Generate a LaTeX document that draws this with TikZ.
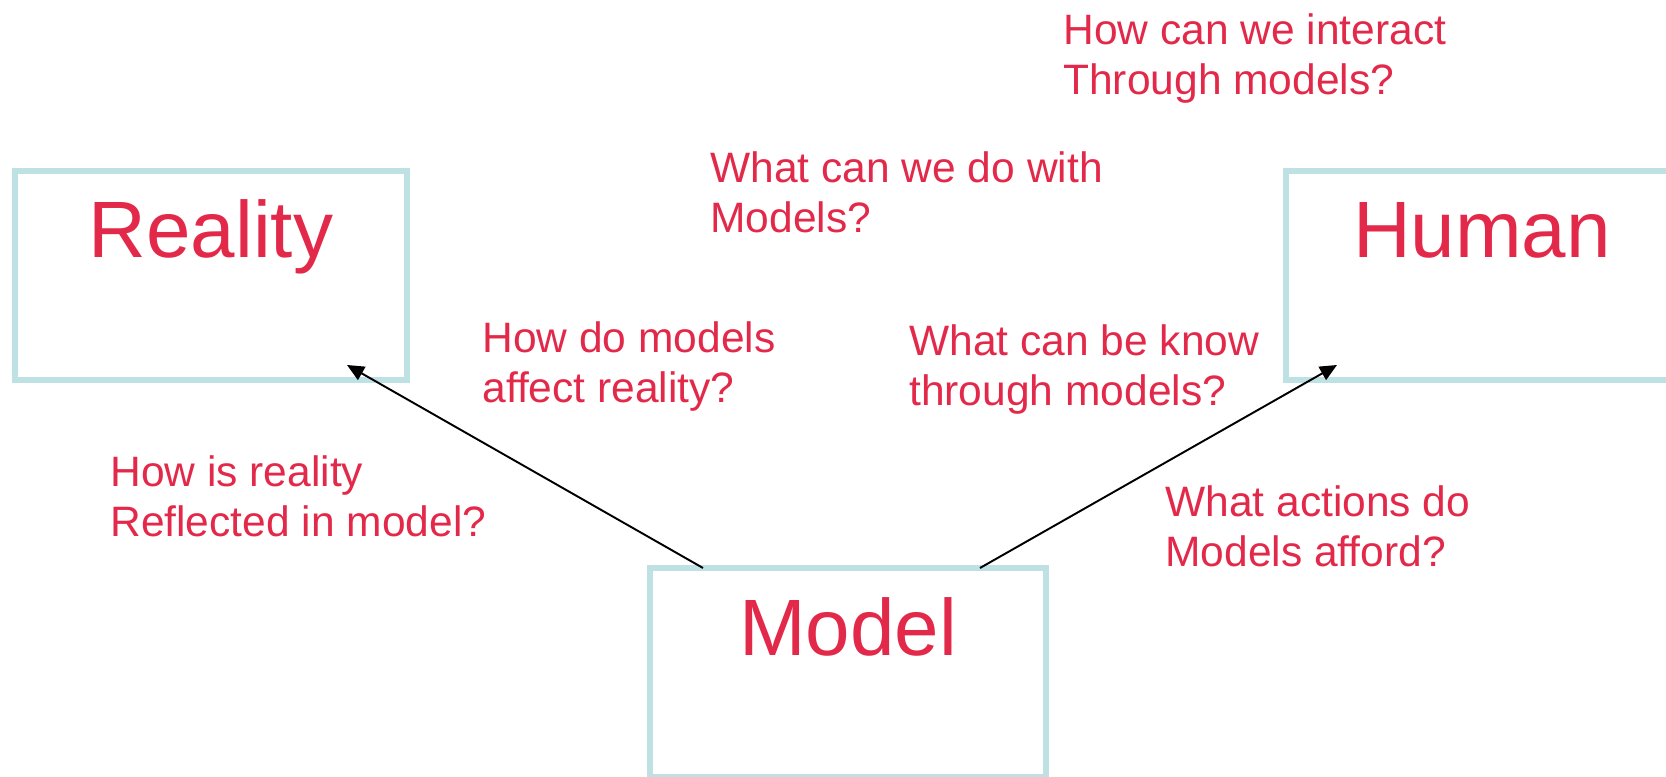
\documentclass[tikz,border=0pt]{standalone}
\usepackage{fontspec}
\setmainfont{Liberation Sans}
\usetikzlibrary{arrows.meta}
\definecolor{qred}{RGB}{227,41,74}
\definecolor{boxteal}{RGB}{190,225,228}

\begin{document}
\begin{tikzpicture}[
  frame/.style={draw=boxteal, line width=3.4pt, outer sep=0pt, inner sep=0pt,
    minimum width=7.84cm, minimum height=4.18cm},
  title/.style={text=qred, font=\fontsize{45.5}{50}\selectfont, inner sep=0pt, anchor=base},
  question/.style={text=qred, font=\fontsize{24.2}{28.45}\selectfont, align=left,
    inner sep=0pt, anchor=base west},
  link/.style={line width=1.1pt, -{Triangle[length=0.34cm, width=0.3cm]}}
]
\useasboundingbox (0,0) rectangle (33.32,15.54);
\clip (0,0) rectangle (33.32,15.54);

% the three boxes
\node[frame] (reality) at (4.22, 10.03) {};
\node[frame] (human) at (29.64, 10.03) {};
\node[frame, minimum width=7.92cm] (model) at (16.96, 2.09) {};

\node[title] (realitytitle) at ([yshift=-1.74cm]reality.north) {Reality};
\node[title] (humantitle) at ([yshift=-1.74cm]human.north) {Human};
\node[title] (modeltitle) at ([yshift=-1.76cm]model.north) {Model};

% model -> reality, model -> human
\draw[link] ([xshift=1.06cm]model.north west) -- ([xshift=-1.2cm, yshift=0.3cm]reality.south east);
\draw[link] ([xshift=-1.32cm]model.north east) -- ([xshift=1.02cm, yshift=0.3cm]human.south west);

% questions (placed by the baseline of their last line)
\node[question] (interact) at (21.26, 13.64) {How can we interact\\Through models?};
\node[question] (dowith) at (14.2, 10.88) {What can we do with\\Models?};
\node[question] (affect) at (9.64, 7.48) {How do models\\affect reality?};
\node[question] (know) at (18.18, 7.42) {What can be know\\through models?};
\node[question] (reflected) at (2.2, 4.8) {How is reality\\Reflected in model?};
\node[question] (afford) at (23.3, 4.2) {What actions do\\Models afford?};
\end{tikzpicture}
\end{document}
